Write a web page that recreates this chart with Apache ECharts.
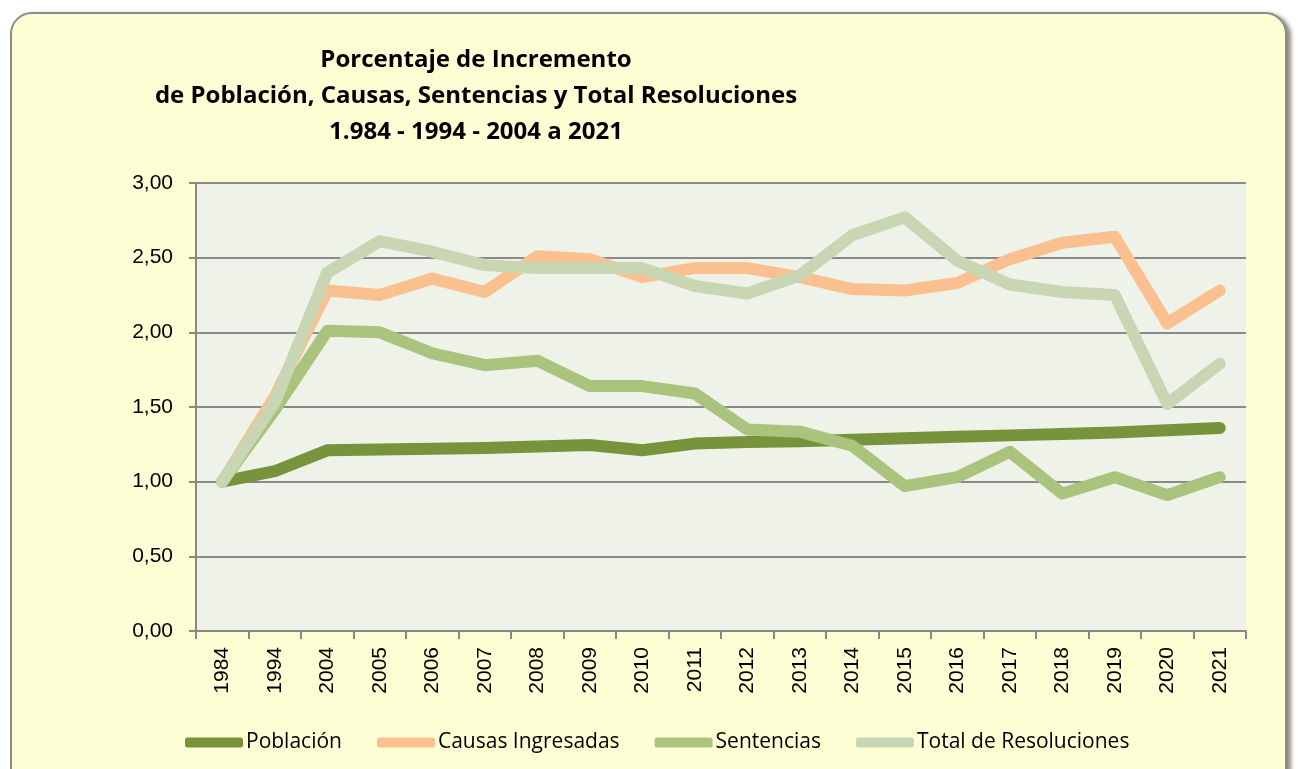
<!DOCTYPE html>
<html>
<head>
<meta charset="utf-8">
<script src="https://cdn.jsdelivr.net/npm/echarts@6/dist/echarts.min.js"></script>
<style>
  html, body { margin: 0; padding: 0; background: #fff; overflow: hidden; }
  .marco {
    position: absolute; left: 10px; top: 12px; width: 1273px; height: 790px;
    background: #FFFFD5; border: 2px solid #8c8c8c; border-radius: 22px;
    box-shadow: 4px 2px 4px rgba(60,60,40,0.6);
  }
  #chart { position: absolute; left: 0; top: 0; width: 1298px; height: 769px; }
</style>
</head>
<body>
<div class="marco"></div>
<div id="chart"></div>
<script>
// años
const anios = ['1984','1994','2004','2005','2006','2007','2008','2009','2010','2011',
               '2012','2013','2014','2015','2016','2017','2018','2019','2020','2021'];

const poblacion = [1.00,1.07,1.21,1.215,1.22,1.225,1.235,1.245,1.21,1.255,
                   1.265,1.27,1.28,1.29,1.30,1.31,1.32,1.33,1.345,1.36];
const causas = [1.00,1.57,2.28,2.25,2.36,2.27,2.51,2.49,2.37,2.43,
                2.43,2.37,2.29,2.28,2.33,2.49,2.60,2.64,2.06,2.28];
const sentencias = [1.00,1.48,2.01,2.00,1.86,1.78,1.81,1.64,1.64,1.59,
                    1.35,1.335,1.24,0.97,1.03,1.20,0.92,1.03,0.91,1.03];
const resoluciones = [1.00,1.53,2.40,2.61,2.54,2.45,2.43,2.43,2.43,2.31,
                      2.26,2.38,2.65,2.77,2.48,2.32,2.27,2.25,1.52,1.79];

const chart = echarts.init(document.getElementById('chart'))

function linea(nombre, datos, color) {
  return {
    name: nombre,
    type: 'line',
    data: datos,
    symbol: 'none',
    color: color,
    lineStyle: { width: 12, color: color, cap: 'round', join: 'round' }
  }
}

const option = {
  backgroundColor: 'transparent',
  animation: false,
  title: {
    text: 'Porcentaje de Incremento\nde Población, Causas, Sentencias y Total Resoluciones\n1.984 - 1994 - 2004 a 2021',
    left: 471,
    top: 37,
    textAlign: 'center',
    textStyle: {
      fontFamily: 'Open Sans',
      fontWeight: 'bold',
      fontSize: 24,
      lineHeight: 36,
      color: '#000'
    }
  },
  legend: {
    left: 180,
    top: 727,
    itemWidth: 58,
    itemHeight: 10,
    itemGap: 35,
    icon: 'roundRect',
    textStyle: { fontFamily: 'Open Sans', fontSize: 21, color: '#000', padding: [0, 0, 0, -2] },
    data: ['Población', 'Causas Ingresadas', 'Sentencias', 'Total de Resoluciones']
  },
  grid: {
    left: 196, right: 52, top: 183, bottom: 138,
    show: true, backgroundColor: '#EFF2E8', borderWidth: 0
  },
  xAxis: {
    type: 'category',
    data: anios,
    boundaryGap: true,
    axisLine: { lineStyle: { color: '#888', width: 2 } },
    axisTick: { show: true, length: 8, lineStyle: { color: '#888', width: 2 } },
    axisLabel: { rotate: 90, margin: 16, fontFamily: 'Liberation Sans', fontSize: 21, color: '#000' }
  },
  yAxis: {
    type: 'value',
    min: 0, max: 3, interval: 0.5,
    axisLine: { show: true, lineStyle: { color: '#888', width: 2 } },
    axisTick: { show: true, length: 7, lineStyle: { color: '#888', width: 2 } },
    splitLine: { lineStyle: { color: '#8a8a8a', width: 2 } },
    axisLabel: {
      margin: 23, fontFamily: 'Liberation Sans', fontSize: 21, color: '#000',
      formatter: v => v.toFixed(2).replace('.', ',')
    }
  },
  series: [
    linea('Población', poblacion, '#77933C'),
    linea('Causas Ingresadas', causas, '#FAC090'),
    linea('Sentencias', sentencias, '#AAC47E'),
    linea('Total de Resoluciones', resoluciones, '#C8D6B4')
  ]
}
chart.setOption(option)
</script>
</body>
</html>
